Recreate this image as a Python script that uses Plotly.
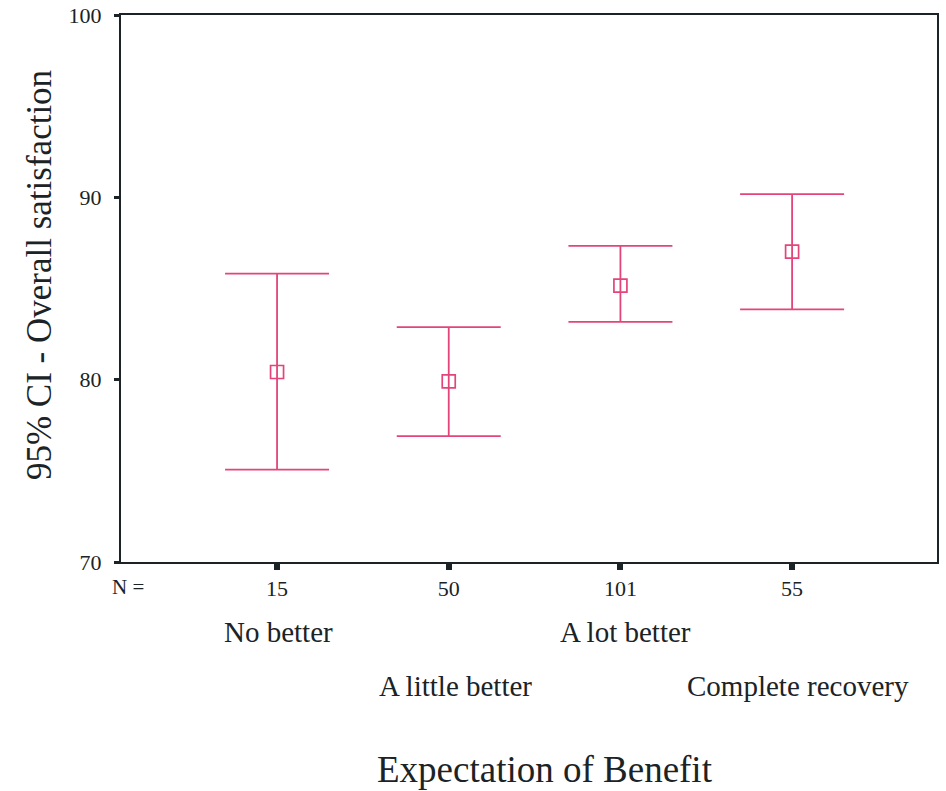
import plotly.graph_objects as go

categories = ["No better", "A little better", "A lot better", "Complete recovery"]
counts = [15, 50, 101, 55]
means = [80.42, 79.91, 85.16, 87.02]
ci_lower = [75.07, 76.90, 83.17, 83.86]
ci_upper = [85.82, 82.88, 87.34, 90.18]

y_ticks = [70, 80, 90, 100]

pos = list(range(len(categories)))
err_plus = [u - m for u, m in zip(ci_upper, means)]
err_minus = [m - l for m, l in zip(means, ci_lower)]

color = "#e3457a"
serif = "Liberation Serif, Times New Roman, serif"
ink = "#1b2326"

W, H = 946, 791
fig = go.Figure()
fig.add_trace(go.Scatter(
    x=pos, y=means, mode="markers",
    marker=dict(symbol="square-open", size=13, color=color, line=dict(width=1.7, color=color)),
    error_y=dict(type="data", symmetric=False, array=err_plus, arrayminus=err_minus,
                 color=color, thickness=1.8, width=52),
    showlegend=False,
))

fig.update_layout(
    width=W, height=H,
    margin=dict(l=121, r=9, t=15, b=229),
    paper_bgcolor="white", plot_bgcolor="white",
    font=dict(family=serif, color=ink),
    xaxis=dict(range=[-0.909, 3.844], tickmode="array", tickvals=pos,
               ticktext=[str(c) for c in counts], showgrid=False, zeroline=False,
               showline=True, linecolor=ink, linewidth=2, mirror=True, automargin=False,
               ticks="outside", ticklen=6, tickwidth=6, tickcolor=ink,
               tickfont=dict(family=serif, size=22, color=ink)),
    yaxis=dict(range=[70, 100], tickmode="array", tickvals=y_ticks,
               ticktext=[str(v) for v in y_ticks], showgrid=False, zeroline=False,
               showline=True, linecolor=ink, linewidth=2, mirror=True, automargin=False,
               ticks="outside", ticklen=5, tickwidth=3, tickcolor=ink,
               ticklabeloverflow="allow",
               tickfont=dict(family=serif, size=22, color=ink), ticklabelstandoff=8),
)

annotations = [
    dict(text="N =", x=-0.868, y=-0.046, xref="x", yref="paper", showarrow=False,
         font=dict(family=serif, size=21, color=ink), xanchor="center", yanchor="middle"),
    dict(text="Expectation of Benefit", x=(545 - 121) / 816, y=-0.38, xref="paper", yref="paper",
         showarrow=False,
         font=dict(family=serif, size=37, color=ink), xanchor="center", yanchor="middle"),
    dict(text="95% CI - Overall satisfaction", x=-0.099, y=0.525, xref="paper", yref="paper",
         showarrow=False, textangle=-90,
         font=dict(family=serif, size=35, color=ink), xanchor="center", yanchor="middle"),
]
row_y = [-0.128, -0.227]
offsets = [0.01, 0.04, 0.03, 0.035]
for i, name in enumerate(categories):
    annotations.append(dict(text=name, x=pos[i] + offsets[i], y=row_y[i % 2], xref="x", yref="paper",
                            showarrow=False, font=dict(family=serif, size=29, color=ink),
                            xanchor="center", yanchor="middle"))
fig.update_layout(annotations=annotations)

# remove the browser's default 8px body margin so the figure fills the window exactly
fig.write_html("out.html", config={"displayModeBar": False},
               post_script="document.body.style.margin='0';")
